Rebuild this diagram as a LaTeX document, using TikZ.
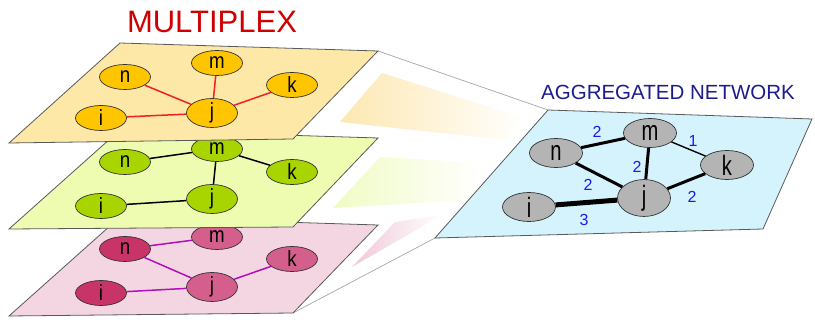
\documentclass[tikz,border=0pt]{standalone}
\usepackage{fontspec}
\setmainfont{Liberation Sans}
\newfontfamily\lblfont[FakeStretch=0.85]{Liberation Sans}
\newfontfamily\agglblfont[FakeStretch=0.72]{Liberation Sans}
\usetikzlibrary{shapes.geometric}

\definecolor{yplane}{HTML}{FDE8A8}
\definecolor{gplane}{HTML}{EEFCB2}
\definecolor{pplane}{HTML}{F4D6E2}
\definecolor{bplane}{HTML}{D5F3FD}
\definecolor{ynode}{HTML}{FFC600}
\definecolor{gnode}{HTML}{A8D400}
\definecolor{pdark}{HTML}{C93468}
\definecolor{plight}{HTML}{D45E8C}
\definecolor{anode}{HTML}{B4B4B4}
\definecolor{yedge}{HTML}{F02020}
\definecolor{pedge}{HTML}{B010B8}
\definecolor{ywedge}{HTML}{FDE8B2}
\definecolor{gwedge}{HTML}{F0FBC4}
\definecolor{pwedge}{HTML}{F0C8D8}
\definecolor{titlered}{HTML}{D00000}
\definecolor{titleblue}{HTML}{1C1C8C}
\definecolor{weightblue}{HTML}{1A1AF0}

\tikzset{
  plane/.style={draw=black!65, line width=0.8pt},
  vert/.style={ellipse, draw=black!80, line width=0.7pt, minimum width=51pt,
    minimum height=25pt, inner sep=0pt, font=\lblfont\fontsize{22}{22}\selectfont},
  agg/.style={vert, fill=anode, minimum width=53pt, minimum height=29pt,
    font=\agglblfont\fontsize{28}{28}\selectfont},
  link/.style={line width=1.5pt},
  wlabel/.style={text=weightblue, font=\fontsize{16}{16}\selectfont, inner sep=0pt},
  guide/.style={draw=black!35, line width=0.7pt},
}

\begin{document}
\begin{tikzpicture}[x=1pt,y=-1pt]
\useasboundingbox (0,0) rectangle (815,320);

% corners used by the guide lines
\coordinate (ytr) at (378,51);
\coordinate (pbr) at (293,313);
\coordinate (atl) at (548,110);
\coordinate (abl) at (435,238);

% guide lines from the stack to the aggregated plane
\draw[guide] (ytr) -- (atl);
\draw[guide] (pbr) -- (abl);

% fading wedges between the stack and the aggregated plane
\shade[left color=ywedge, right color=white] (382,73) -- (525,118) -- (505,140) -- (340,122) -- cycle;
\shade[left color=gwedge, right color=white] (380,157) -- (482,163) -- (470,200) -- (333,208) -- cycle;
\shade[left color=pwedge, right color=white] (395,222) -- (442,215) -- (352,267) -- cycle;

% ---- bottom layer
\filldraw[plane, fill=pplane] (120,217) -- (378,225) -- (293,313) -- (9,316) -- cycle;
\node[vert, fill=plight] (pm) at (217,237) {m};
\node[vert, fill=pdark]  (pn) at (125,249) {n};
\node[vert, fill=plight] (pk) at (292,259) {k};
\node[vert, fill=plight] (pj) at (212,287) {j};
\node[vert, fill=pdark]  (pi) at (101,293) {i};
\draw[link, pedge] (pn) -- (pm);
\draw[link, pedge] (pn) -- (pj);
\draw[link, pedge] (pj) -- (pk);
\draw[link, pedge] (pi) -- (pj);

% ---- middle layer
\filldraw[plane, fill=gplane] (120,130) -- (378,138) -- (293,227) -- (9,229) -- cycle;
\node[vert, fill=gnode] (gm) at (217,149) {m};
\node[vert, fill=gnode] (gn) at (125,162) {n};
\node[vert, fill=gnode] (gk) at (292,172) {k};
\node[vert, fill=gnode] (gj) at (212,199) {j};
\node[vert, fill=gnode] (gi) at (101,206) {i};
\draw[link] (gn) -- (gm);
\draw[link] (gm) -- (gk);
\draw[link] (gm) -- (gj);
\draw[link] (gi) -- (gj);

% ---- top layer
\filldraw[plane, fill=yplane] (120,43) -- (ytr) -- (293,139) -- (9,143) -- cycle;
\node[vert, fill=ynode] (ym) at (217,63) {m};
\node[vert, fill=ynode] (yn) at (125,77) {n};
\node[vert, fill=ynode] (yk) at (292,85) {k};
\node[vert, fill=ynode] (yj) at (212,113) {j};
\node[vert, fill=ynode] (yi) at (101,118) {i};
\draw[link, yedge] (yn) -- (yj);
\draw[link, yedge] (ym) -- (yj);
\draw[link, yedge] (yk) -- (yj);
\draw[link, yedge] (yi) -- (yj);

% ---- aggregated network
\filldraw[plane, fill=bplane] (atl) -- (812,119) -- (763,229) -- (abl) -- cycle;
\node[agg] (an) at (556,153) {n};
\node[agg] (am) at (650,133) {m};
\node[agg] (ak) at (727,165) {k};
\node[agg] (aj) at (644,198) {j};
\node[agg] (ai) at (529,207) {i};
\draw[line width=3pt] (an) -- (am);
\draw[line width=1.4pt] (am) -- (ak);
\draw[line width=3pt] (am) -- (aj);
\draw[line width=3pt] (an) -- (aj);
\draw[line width=3pt] (aj) -- (ak);
\draw[line width=5pt] (ai) -- (aj);
\node[wlabel] (w1) at (597,132) {2};
\node[wlabel] (w2) at (693,141) {1};
\node[wlabel] (w3) at (637,167) {2};
\node[wlabel] (w4) at (588,185) {2};
\node[wlabel] (w5) at (692,197) {2};
\node[wlabel] (w6) at (584,220) {3};

% ---- titles
\node[text=titlered, font=\fontsize{31}{31}\selectfont] (t1) at (212,22) {MULTIPLEX};
\node[text=titleblue, font=\fontsize{20.5}{20.5}\selectfont] (t2) at (668,92) {AGGREGATED NETWORK};
\end{tikzpicture}
\end{document}
